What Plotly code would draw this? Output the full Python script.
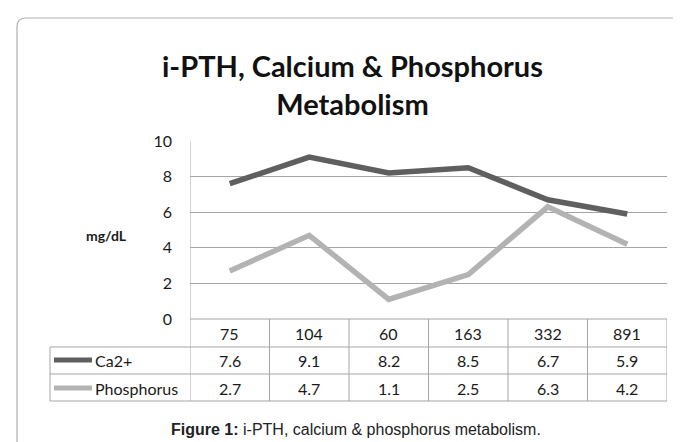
import plotly.graph_objects as go

categories = ["75", "104", "60", "163", "332", "891"]
ca_values = [7.6, 9.1, 8.2, 8.5, 6.7, 5.9]
phos_values = [2.7, 4.7, 1.1, 2.5, 6.3, 4.2]
series_names = ["Ca2+", "Phosphorus"]
series_colors = ["#5f5f5f", "#b3b3b3"]
y_ticks = [0, 2, 4, 6, 8, 10]

W, H = 681, 442
PL, PR, PT, PB = 182, 659, 133, 311  # plot area in pixels


def px(x):
    return (x - PL) / (PR - PL)


def py(y):
    return (PB - y) / (PB - PT)


fig = go.Figure()
for name, vals, col in zip(series_names, [ca_values, phos_values], series_colors):
    fig.add_trace(go.Scatter(x=list(range(len(categories))), y=vals, mode="lines",
                             name=name, line=dict(color=col, width=5.5),
                             showlegend=False, hoverinfo="skip"))

grid = "#a5a5a5"
shapes = []
# outer rounded box
shapes.append(dict(type="path", xref="paper", yref="paper",
                   path=f"M {px(9)},{py(460)} L {px(9)},{py(19)} Q {px(9)},{py(10)} {px(18)},{py(10)} L {px(700)},{py(10)}",
                   line=dict(color="#b0b0b0", width=1.2)))
# left plot axis line through table
shapes.append(dict(type="line", xref="x", yref="paper", x0=-0.5, x1=-0.5, y0=1, y1=py(393),
                   line=dict(color=grid, width=1)))
# vertical table lines
for i in range(1, len(categories) + 1):
    shapes.append(dict(type="line", xref="x", yref="paper", x0=i - 0.5, x1=i - 0.5,
                       y0=0, y1=py(393), line=dict(color=grid, width=1)))
shapes.append(dict(type="line", xref="paper", yref="paper", x0=px(42), x1=px(42),
                   y0=py(339), y1=py(393), line=dict(color=grid, width=1)))
# horizontal table lines
for yy in [339, 366, 393]:
    shapes.append(dict(type="line", xref="paper", yref="paper", x0=px(42), x1=1,
                       y0=py(yy), y1=py(yy), line=dict(color=grid, width=1)))
shapes.append(dict(type="line", xref="paper", yref="paper", x0=0, x1=1,
                   y0=0, y1=0, line=dict(color=grid, width=1)))
# legend keys
row_y = [352, 380]
for yy, col in zip(row_y, series_colors):
    shapes.append(dict(type="line", xref="paper", yref="paper", x0=px(46), x1=px(84),
                       y0=py(yy), y1=py(yy), line=dict(color=col, width=5)))

tfont = dict(family="Lato, Carlito, Calibri, sans-serif", size=16, color="#1a1a1a")
ann = []
for i, c in enumerate(categories):
    ann.append(dict(x=i, y=py(325), xref="x", yref="paper", text=c, showarrow=False,
                    font=tfont, xanchor="center", yanchor="middle"))
for vals, yy in zip([ca_values, phos_values], row_y):
    for i, v in enumerate(vals):
        ann.append(dict(x=i, y=py(yy), xref="x", yref="paper", text=f"{v:.1f}",
                        showarrow=False, font=tfont, xanchor="center", yanchor="middle"))
for name, yy in zip(series_names, row_y):
    ann.append(dict(x=px(85), y=py(yy), xref="paper", yref="paper", text=name, showarrow=False,
                    font=tfont, xanchor="left", yanchor="middle"))
ann.append(dict(x=px(98), y=py(227), xref="paper", yref="paper", text="<b>mg/dL</b>",
                showarrow=False, font=dict(family="Lato, sans-serif", size=14, color="#1a1a1a"),
                xanchor="center", yanchor="middle"))
ann.append(dict(x=px(344), y=py(76), xref="paper", yref="paper",
                text="<b>i-PTH, Calcium & Phosphorus<br>Metabolism</b>",
                showarrow=False, font=dict(family="Lato, sans-serif", size=29, color="#111111"),
                xanchor="center", yanchor="middle"))
ann.append(dict(x=px(348), y=py(421), xref="paper", yref="paper",
                text="<b>Figure 1:</b> i-PTH, calcium & phosphorus metabolism.",
                showarrow=False, font=dict(family="Liberation Sans, Arial, sans-serif", size=16, color="#222222"),
                xanchor="center", yanchor="middle"))

fig.update_layout(
    width=W, height=H,
    margin=dict(l=PL, r=W - PR, t=PT, b=H - PB, pad=0),
    paper_bgcolor="white", plot_bgcolor="white",
    shapes=shapes, annotations=ann,
    xaxis=dict(type="linear", range=[-0.5, len(categories) - 0.5], showgrid=False,
               showticklabels=False, zeroline=False, showline=False, ticks=""),
    yaxis=dict(range=[0, 10], tickvals=y_ticks, showgrid=True, gridcolor=grid, gridwidth=1,
               zeroline=False, showline=False, ticks="", ticklabelstandoff=17,
               tickfont=tfont),
)
fig.write_html("out.html")
